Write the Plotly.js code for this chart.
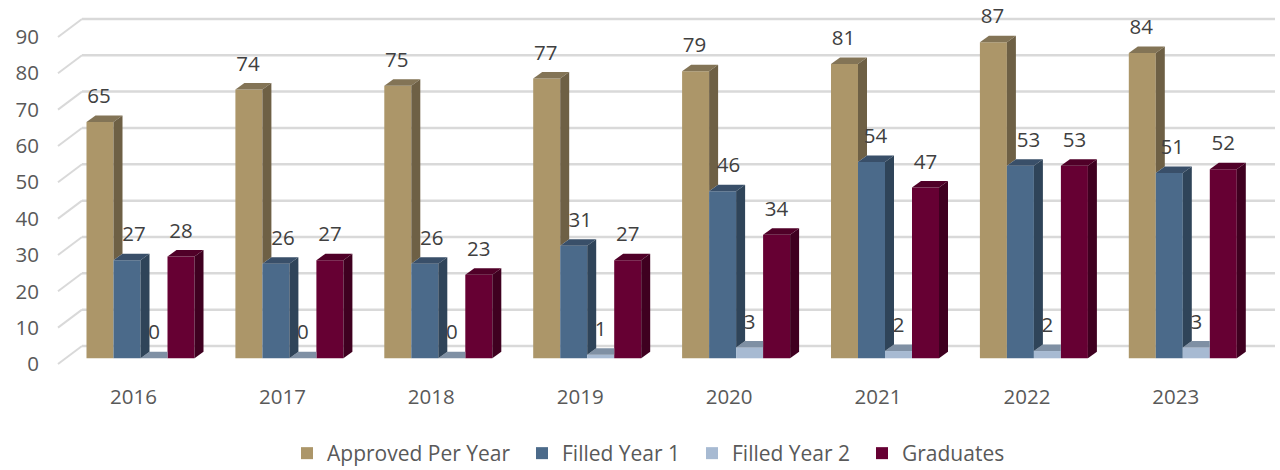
<!DOCTYPE html>
<html><head><meta charset="utf-8">
<script src="https://cdn.plot.ly/plotly-3.0.1.min.js"></script>
<style>html,body{margin:0;padding:0;background:#fff}#c{width:1280px;height:470px}</style>
</head><body><div id="c"></div>
<script>
const years = ['2016','2017','2018','2019','2020','2021','2022','2023'];
const approved = [65,74,75,77,79,81,87,84];
const filled1 = [27,26,26,31,46,54,53,51];
const filled2 = [0,0,0,1,3,2,2,3];
const graduates = [28,27,23,27,34,47,53,52];
const yTicks = [0,10,20,30,40,50,60,70,80,90];

const W=1280,H=470,ML=40,MB=88,FONT='"Open Sans", sans-serif';
const pxPerUnit=3.634, step=148.9, barW=27, depthX=9, depthY=6.5;
const firstBarLeft=86.5, firstLabel=133.5;
const frontZero=358.3, wallFrontZero=364, wallBackZero=346;
const xOf=px=>(px-firstLabel)/step;
const xRange=[xOf(ML),xOf(W)];
const plotH=H-MB;
const yRange=z=>[(z-plotH)/pxPerUnit,z/pxPerUnit];
const dx=depthX/step, dy=depthY/pxPerUnit, bw=barW/step, off0=(firstBarLeft-firstLabel)/step;

const series=[
 {name:'Approved Per Year',v:approved,front:'#AC9669',side:'#6E6045',top:'#837456',shift:[-1,-1,-1,-1,-1,-1,-1,-1],legend:'legend',lx:287},
 {name:'Filled Year 1',v:filled1,front:'#4B6A8A',side:'#2F4459',top:'#394F69',shift:[7,7,7,6.5,6,4,8,3],legend:'legend2',lx:522},
 {name:'Filled Year 2',v:filled2,front:'#A7BAD2',side:'#7F90A4',top:'#7F90A4',shift:[0,0,0,0,0,0,0,0],legend:'legend3',lx:692},
 {name:'Graduates',v:graduates,front:'#660033',side:'#3F0020',top:'#500028',shift:[0,0,0,0,0,0,0,0],legend:'legend4',lx:862}
];
const traces=[];
series.forEach((s,j)=>traces.push({type:'bar',name:s.name,x:years.map((_,i)=>i),y:s.v,width:bw,offset:off0+j*bw,
  marker:{color:s.front,line:{width:0}},hoverinfo:'x+y+name',yaxis:'y',xaxis:'x',legend:s.legend}));
traces.push({type:'scatter',mode:'none',x:[0],y:[0],yaxis:'y2',showlegend:false,hoverinfo:'skip'});

function poly(xs,ys,c){traces.push({type:'scatter',mode:'lines',x:[...xs,xs[0]],y:[...ys,ys[0]],fill:'toself',fillcolor:c,
  line:{width:0,color:c},showlegend:false,hoverinfo:'skip',yaxis:'y'});}
function labels(s,j){traces.push({type:'scatter',mode:'text',x:years.map((_,i)=>i+off0+(j+.5)*bw+s.shift[i]/step),
  y:s.v.map(v=>v+24/pxPerUnit),text:s.v.map(String),textposition:'middle center',cliponaxis:false,
  textfont:{family:FONT,size:20.5,color:'#404040'},showlegend:false,hoverinfo:'skip',yaxis:'y'});}
function faces(s,j){
  const next=series[j+1];
  s.v.forEach((v,i)=>{
    const L=i+off0+j*bw,R=L+bw,vn=next?next.v[i]:0;
    if(next&&vn>v){ poly([L,R,R,L+dx],[v,v,v+dy,v+dy],s.top); return; }
    poly([L,R,R+dx,L+dx],[v,v,v+dy,v+dy],s.top);
    poly([R,R+dx,R+dx,R],[v,v+dy,vn+dy,vn],s.side);
  });
}
labels(series[2],2);
faces(series[2],2);
faces(series[0],0); faces(series[1],1); faces(series[3],3);
labels(series[0],0); labels(series[1],1); labels(series[3],3);

const gridColor='#D9D9D9';
const shapes=[];
const x0=xOf(58),x1=xOf(82),x2=xOf(1275),wallRise=(wallFrontZero-wallBackZero)/pxPerUnit;
yTicks.forEach(t=>{
  shapes.push({type:'line',layer:'below',xref:'x',yref:'y2',x0:x0,x1:x1,y0:t,y1:t+wallRise,line:{color:gridColor,width:2}});
  shapes.push({type:'line',layer:'below',xref:'x',yref:'y2',x0:x1,x1:x2,y0:t+wallRise,y1:t+wallRise,line:{color:gridColor,width:2.5}});
});

const legendBase=lx=>({orientation:'h',xref:'container',yref:'container',x:lx/W,xanchor:'left',y:1-433/H,yanchor:'top',
  font:{family:FONT,size:21,color:'#595959'},bgcolor:'rgba(0,0,0,0)',itemclick:false,itemdoubleclick:false});
const layout={
  width:W,height:H,margin:{l:ML,r:0,t:0,b:MB},paper_bgcolor:'#fff',plot_bgcolor:'#fff',
  barmode:'overlay',showlegend:true,shapes,
  font:{family:FONT,size:20,color:'#595959'},
  xaxis:{range:xRange,tickmode:'array',tickvals:years.map((_,i)=>i),ticktext:years,showgrid:false,zeroline:false,showline:false,ticks:'',
    tickfont:{family:FONT,size:20.5,color:'#595959'},anchor:'free',position:0,fixedrange:true},
  yaxis:{range:yRange(frontZero),showticklabels:false,showgrid:false,zeroline:false,showline:false,ticks:'',fixedrange:true},
  yaxis2:{range:yRange(wallFrontZero),overlaying:'y',side:'left',tickmode:'array',tickvals:yTicks,showgrid:false,zeroline:false,showline:false,ticks:'',
    tickfont:{family:FONT,size:20.5,color:'#595959'},fixedrange:true},
  legend:legendBase(series[0].lx),legend2:legendBase(series[1].lx),legend3:legendBase(series[2].lx),legend4:legendBase(series[3].lx)
};
Plotly.newPlot('c',traces,layout,{displayModeBar:false,staticPlot:true});
</script></body></html>
